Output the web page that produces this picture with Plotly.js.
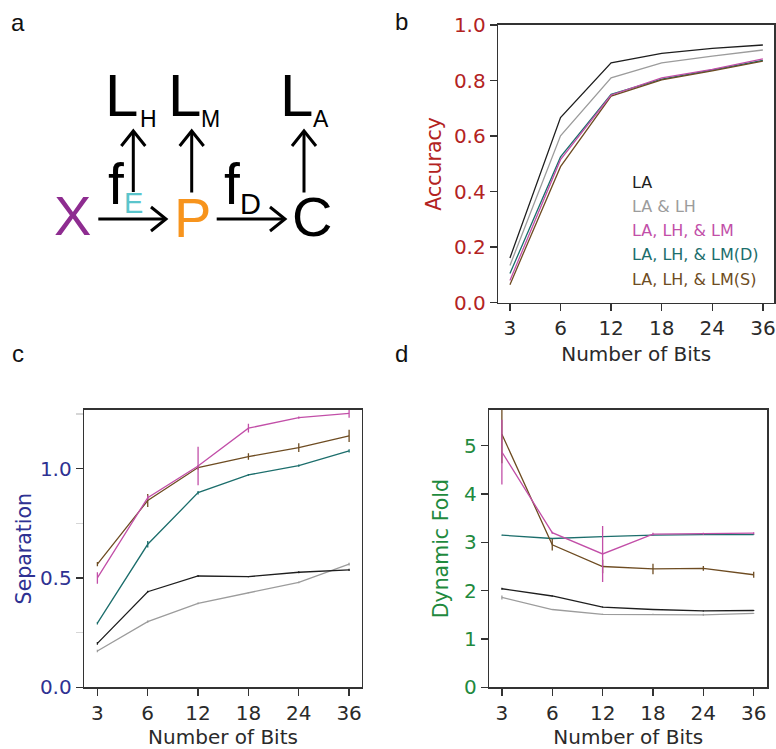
<!DOCTYPE html>
<html><head><meta charset="utf-8">
<script src="https://cdn.plot.ly/plotly-3.0.1.min.js"></script>
<style>html,body{margin:0;padding:0;background:#fff}#chart{width:776px;height:749px}</style>
</head><body><div id="chart"></div>
<script>
// ---------------- data ----------------
const bits = ['3', '6', '12', '18', '24', '36'];
const seriesNames = ['LA', 'LA & LH', 'LA, LH, & LM', 'LA, LH, & LM(D)', 'LA, LH, & LM(S)'];

// panel b: accuracy
const accLA   = [0.161, 0.667, 0.864, 0.898, 0.916, 0.928];
const accLALH = [0.134, 0.601, 0.810, 0.864, 0.888, 0.910];
const accLM   = [0.080, 0.515, 0.748, 0.810, 0.840, 0.878];
const accLMD  = [0.105, 0.525, 0.750, 0.805, 0.838, 0.873];
const accLMS  = [0.065, 0.490, 0.744, 0.802, 0.835, 0.870];

// panel c: separation (value, error)
const sepLA      = [0.201, 0.437, 0.509, 0.506, 0.526, 0.537];
const sepLAErr   = [0.006, 0.005, 0.005, 0.003, 0.005, 0.005];
const sepLALH    = [0.166, 0.300, 0.384, 0.433, 0.480, 0.563];
const sepLALHErr = [0.006, 0.005, 0.004, 0.003, 0.004, 0.006];
const sepLM      = [0.500, 0.867, 1.012, 1.185, 1.233, 1.253];
const sepLMErr   = [0.026, 0.010, 0.088, 0.020, 0.005, 0.020];
const sepLMD     = [0.293, 0.654, 0.890, 0.971, 1.014, 1.081];
const sepLMDErr  = [0.006, 0.015, 0.008, 0.004, 0.005, 0.007];
const sepLMS     = [0.563, 0.854, 1.005, 1.055, 1.096, 1.150];
const sepLMSErr  = [0.010, 0.030, 0.010, 0.015, 0.020, 0.028];

// panel d: dynamic fold (value, error)
const dfLA      = [2.04, 1.89, 1.66, 1.61, 1.58, 1.59];
const dfLAErr   = [0.02, 0.01, 0.01, 0.01, 0.01, 0.01];
const dfLALH    = [1.86, 1.61, 1.51, 1.51, 1.50, 1.53];
const dfLALHErr = [0.04, 0.01, 0.01, 0.01, 0.02, 0.01];
const dfLM      = [4.87, 3.20, 2.76, 3.17, 3.18, 3.19];
const dfLMErr   = [0.67, 0.02, 0.58, 0.03, 0.02, 0.02];
const dfLMD     = [3.15, 3.08, 3.12, 3.15, 3.16, 3.16];
const dfLMDErr  = [0.01, 0.01, 0.01, 0.01, 0.01, 0.01];
const dfLMS     = [5.24, 2.95, 2.50, 2.45, 2.46, 2.33];
const dfLMSErr  = [0.60, 0.12, 0.14, 0.11, 0.05, 0.06];

// ---------------- style ----------------
const colors = ['#1e1e1e', '#9c9c9c', '#c24fa8', '#1c6e6c', '#6e4c22'];
const W = 776, H = 749;
const px = x => x / W;
const py = y => 1 - y / H;
const chartFont = 'DejaVu Sans, Verdana, sans-serif';
const diagFont = 'Liberation Sans, Arial, Helvetica, sans-serif';

const accSets = [accLA, accLALH, accLM, accLMD, accLMS];
const sepSets = [[sepLA, sepLAErr], [sepLALH, sepLALHErr], [sepLM, sepLMErr], [sepLMD, sepLMDErr], [sepLMS, sepLMSErr]];
const dfSets  = [[dfLA, dfLAErr], [dfLALH, dfLALHErr], [dfLM, dfLMErr], [dfLMD, dfLMDErr], [dfLMS, dfLMSErr]];

const traces = [];
const order = [1, 3, 4, 2, 0];
order.forEach(i => {
  traces.push({x: bits, y: accSets[i], name: seriesNames[i], mode: 'lines', type: 'scatter',
    line: {color: colors[i], width: 1.3}, xaxis: 'x', yaxis: 'y', showlegend: false});
});
order.forEach(i => {
  traces.push({x: bits, y: sepSets[i][0], name: seriesNames[i], mode: 'lines', type: 'scatter',
    line: {color: colors[i], width: 1.3}, xaxis: 'x2', yaxis: 'y2', showlegend: false,
    error_y: {type: 'data', array: sepSets[i][1], visible: true, color: colors[i], thickness: 1.3, width: 0}});
});
order.forEach(i => {
  traces.push({x: bits, y: dfSets[i][0], name: seriesNames[i], mode: 'lines', type: 'scatter',
    line: {color: colors[i], width: 1.3}, xaxis: 'x3', yaxis: 'y3', showlegend: false,
    error_y: {type: 'data', array: dfSets[i][1], visible: true, color: colors[i], thickness: 1.3, width: 0}});
});

function xAxis(x0, x1, range, anchor) {
  return {
    domain: [px(x0), px(x1)], anchor: anchor, type: 'category', range: range,
    showline: true, mirror: true, linecolor: '#333', linewidth: 1.6,
    ticks: 'outside', ticklen: 7, tickwidth: 1.4, tickcolor: '#333',
    tickfont: {family: chartFont, size: 20, color: '#2a2a2a'},
    showgrid: false, zeroline: false, fixedrange: true,
    title: {text: 'Number of Bits', font: {family: chartFont, size: 20, color: '#2a2a2a'}, standoff: 8}
  };
}
function yAxis(y0, y1, range, anchor, title, col, dtick, fmt, standoff) {
  return {
    domain: [py(y1), py(y0)], anchor: anchor, range: range,
    showline: true, mirror: true, linecolor: '#333', linewidth: 1.6,
    ticks: 'outside', ticklen: 7, tickwidth: 1.4, tickcolor: '#333',
    tick0: 0, dtick: dtick, tickformat: fmt,
    tickfont: {family: chartFont, size: 20, color: col},
    showgrid: false, zeroline: false, fixedrange: true,
    title: {text: title, font: {family: chartFont, size: 20.5, color: col}, standoff: standoff}
  };
}

const layout = {
  width: W, height: H,
  margin: {l: 0, r: 0, t: 0, b: 0},
  paper_bgcolor: '#fff', plot_bgcolor: '#fff',
  showlegend: false,
  font: {family: chartFont, color: '#222'},
  xaxis: xAxis(498.3, 774, [-0.23, 5.22], 'y'),
  yaxis: yAxis(25, 302.7, [0, 1], 'x', 'Accuracy', '#b3231f', 0.2, '.1f', 7),
  xaxis2: xAxis(84.3, 361.7, [-0.26, 5.25], 'y2'),
  yaxis2: yAxis(410, 687.3, [0, 1.268], 'x2', 'Separation', '#2e3192', 0.5, '.1f', 3),
  xaxis3: xAxis(489.3, 767.3, [-0.25, 5.27], 'y3'),
  yaxis3: yAxis(410, 687.3, [0, 5.74], 'x3', 'Dynamic Fold', '#1f8a3e', 1, 'd', 10),
  annotations: [],
  shapes: []
};
layout.yaxis2.minor = {dtick: 0.25, tick0: 0, ticks: 'outside', ticklen: 7, tickwidth: 1.2, tickcolor: '#d6d6d6'};

// legend of panel b (coloured text)
const legendY = [182.5, 206.7, 230.7, 255, 279];
seriesNames.forEach((n, i) => {
  layout.annotations.push({xref: 'paper', yref: 'paper', x: px(630), y: py(legendY[i]),
    xanchor: 'left', yanchor: 'middle', text: n, showarrow: false,
    font: {family: chartFont, size: 16, color: colors[i]}});
});

// panel letters
[['a', 17.5, 22], ['b', 401, 21], ['c', 17.5, 353], ['d', 401.5, 353]].forEach(([t, x, y]) => {
  layout.annotations.push({xref: 'paper', yref: 'paper', x: px(x), y: py(y), xanchor: 'center', yanchor: 'middle',
    text: t, showarrow: false, font: {family: diagFont, size: 24, color: '#111'}});
});

// panel a: diagram text
const diag = [
  ['L', 121.7, 95.9, 60, '#000'], ['H', 148.3, 118.7, 23, '#000'],
  ['L', 184.0, 95.9, 60, '#000'], ['M', 210.0, 118.7, 23, '#000'],
  ['L', 296.7, 95.9, 60, '#000'], ['A', 321.2, 118.7, 23, '#000'],
  ['X', 72.5, 215.6, 56, '#8e2c90'], ['P', 192.3, 217.3, 56, '#f7941d'], ['C', 312.0, 216.0, 56, '#000'],
  ['f', 116.0, 183.5, 57, '#000'], ['E', 133.4, 203.2, 29, '#5bc5cc'],
  ['f', 231.7, 184.0, 57, '#000'], ['D', 250.0, 204.0, 29, '#000']
];
diag.forEach(([t, x, y, s, c]) => {
  layout.annotations.push({xref: 'paper', yref: 'paper', x: px(x), y: py(y), xanchor: 'center', yanchor: 'middle',
    text: t, showarrow: false, font: {family: diagFont, size: s, color: c}});
});

// panel a: arrows (shaft + open chevron head)
function arrow(x0, y0, x1, y1) {
  const dx = x1 - x0, dy = y1 - y0, L = Math.hypot(dx, dy);
  const ux = dx / L, uy = dy / L, nx = -uy, ny = ux;
  const hl = 15, hw = 12;
  const bx = x1 - ux * hl, by = y1 - uy * hl;
  layout.shapes.push({type: 'line', xref: 'paper', yref: 'paper', x0: px(x0), y0: py(y0), x1: px(x1 - ux * 1.5), y1: py(y1 - uy * 1.5),
    line: {color: '#000', width: 3}});
  layout.shapes.push({type: 'path', xref: 'paper', yref: 'paper',
    path: `M${px(bx + nx * hw)},${py(by + ny * hw)} L${px(x1)},${py(y1)} L${px(bx - nx * hw)},${py(by - ny * hw)}`,
    line: {color: '#000', width: 3}});
}
arrow(98.3, 219, 166, 219);
arrow(216.7, 219, 285, 219);
arrow(133.3, 192, 133.3, 131);
arrow(191.7, 192.5, 191.7, 131);
arrow(304, 192.5, 304, 131);

Plotly.newPlot('chart', traces, layout, {displayModeBar: false, staticPlot: true});
</script>
</body></html>
